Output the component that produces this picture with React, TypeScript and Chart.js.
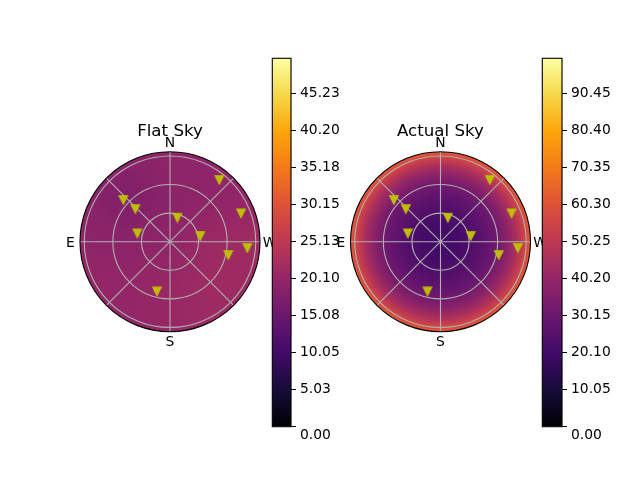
import React, { useEffect, useRef } from "react";
import { Chart, registerables } from "chart.js";
Chart.register(...registerables);

// ---------- data ----------
const R_MAX = 94.5; // zenith distance (deg) at the plot rim
const ringValues = [30, 60, 90];
const spokeAngles = [0, 45, 90, 135, 180, 225, 270, 315];
const directionLabels = ["N", "W", "S", "E"]; // at 0, 90, 180, 270 deg (clockwise from top)

// star positions (deg on sky, x toward W, y toward N)
const markerX = [-49.0, -36.4, -34.3, 7.7, 51.8, 74.6, 31.8, 81.2, 61.2, -13.7];
const markerY = [43.8, 34.3, 8.8, 25.2, 64.8, 29.8, 6.0, -6.6, -14.0, -52.1];

// flat sky brightness sampled on a coarse grid
const flatGridX = [-90, -45, 0, 45, 90];
const flatGridY = [90, 45, 0, -45, -90];
const flatRow90 = [19.5, 19.0, 19.5, 19.5, 20.0];
const flatRow45 = [19.0, 17.5, 19.0, 19.5, 20.0];
const flatRow0 = [19.5, 19.0, 19.5, 21.0, 21.5];
const flatRowM45 = [20.0, 20.0, 20.5, 21.5, 21.0];
const flatRowM90 = [20.0, 20.0, 20.5, 21.0, 20.5];
const flatGrid = [flatRow90, flatRow45, flatRow0, flatRowM45, flatRowM90];

// actual sky brightness versus zenith distance
const actualZenith = [0, 10, 20, 30, 40, 50, 60, 70, 80, 90, 94.5];
const actualValue = [20, 20.3, 21.2, 23, 25.5, 28.5, 32, 38, 46, 57, 62];

// colour bars
const flatMax = 49.95;
const actualMax = 99.95;
const flatTicks = ["0.00", "5.03", "10.05", "15.08", "20.10", "25.13", "30.15", "35.18", "40.20", "45.23"];
const actualTicks = ["0.00", "10.05", "20.10", "30.15", "40.20", "50.25", "60.30", "70.35", "80.40", "90.45"];

// ---------- styles ----------
const FONT = '"DejaVu Sans", sans-serif';
const INFERNO = [
  [0, 0, 4], [22, 11, 57], [66, 10, 104], [106, 23, 110], [147, 38, 103],
  [188, 55, 84], [221, 81, 58], [243, 120, 25], [252, 165, 10], [246, 215, 70], [252, 255, 164],
];
Chart.defaults.font.family = FONT;

function inferno(t: number): number[] {
  const c = Math.max(0, Math.min(1, t)) * (INFERNO.length - 1);
  const i = Math.min(INFERNO.length - 2, Math.floor(c));
  const f = c - i;
  const a = INFERNO[i], b = INFERNO[i + 1];
  return [a[0] + (b[0] - a[0]) * f, a[1] + (b[1] - a[1]) * f, a[2] + (b[2] - a[2]) * f];
}

function interp1(xs: number[], ys: number[], v: number): number {
  if (v <= xs[0]) return ys[0];
  for (let i = 0; i < xs.length - 1; i++) {
    if (v <= xs[i + 1]) {
      const f = (v - xs[i]) / (xs[i + 1] - xs[i]);
      return ys[i] + (ys[i + 1] - ys[i]) * f;
    }
  }
  return ys[ys.length - 1];
}

function flatValueAt(x: number, y: number): number {
  const cx = Math.max(flatGridX[0], Math.min(flatGridX[flatGridX.length - 1], x));
  const cy = Math.max(flatGridY[flatGridY.length - 1], Math.min(flatGridY[0], y));
  let i = 0;
  while (i < flatGridX.length - 2 && cx > flatGridX[i + 1]) i++;
  let j = 0;
  while (j < flatGridY.length - 2 && cy < flatGridY[j + 1]) j++;
  const fx = (cx - flatGridX[i]) / (flatGridX[i + 1] - flatGridX[i]);
  const fy = (cy - flatGridY[j]) / (flatGridY[j + 1] - flatGridY[j]);
  const v00 = flatGrid[j][i], v01 = flatGrid[j][i + 1];
  const v10 = flatGrid[j + 1][i], v11 = flatGrid[j + 1][i + 1];
  return (v00 * (1 - fx) + v01 * fx) * (1 - fy) + (v10 * (1 - fx) + v11 * fx) * fy;
}

function actualValueAt(x: number, y: number): number {
  return interp1(actualZenith, actualValue, Math.hypot(x, y));
}

function makeTriangle(): HTMLCanvasElement {
  const c = document.createElement("canvas");
  c.width = 12;
  c.height = 12;
  const g = c.getContext("2d")!;
  g.beginPath();
  g.moveTo(6 - 4.17, 6 - 4.17);
  g.lineTo(6 + 4.17, 6 - 4.17);
  g.lineTo(6, 6 + 4.17);
  g.closePath();
  g.fillStyle = "#bfbf00";
  g.fill();
  g.strokeStyle = "#bfbf00";
  g.lineWidth = 1.3;
  g.stroke();
  return c;
}

function skyPlugin(title: string, valueAt: (x: number, y: number) => number, vmax: number) {
  return {
    id: "sky-" + title,
    beforeDatasetsDraw(chart: any) {
      const { ctx, chartArea: a } = chart;
      const xs = chart.scales.x, ys = chart.scales.y;
      const cx = xs.getPixelForValue(0), cy = ys.getPixelForValue(0);
      const rad = xs.getPixelForValue(R_MAX) - cx;
      const w = Math.ceil(a.right - a.left), h = Math.ceil(a.bottom - a.top);
      const off = document.createElement("canvas");
      off.width = w;
      off.height = h;
      const octx = off.getContext("2d")!;
      const img = octx.createImageData(w, h);
      for (let j = 0; j < h; j++) {
        const vy = ys.getValueForPixel(a.top + j + 0.5);
        for (let i = 0; i < w; i++) {
          const vx = xs.getValueForPixel(a.left + i + 0.5);
          const col = inferno(valueAt(vx, vy) / vmax);
          const k = (j * w + i) * 4;
          img.data[k] = col[0];
          img.data[k + 1] = col[1];
          img.data[k + 2] = col[2];
          img.data[k + 3] = 255;
        }
      }
      octx.putImageData(img, 0, 0);
      ctx.save();
      ctx.beginPath();
      ctx.arc(cx, cy, rad, 0, Math.PI * 2);
      ctx.clip();
      ctx.drawImage(off, a.left, a.top);
      // grid
      ctx.strokeStyle = "#b0b0b0";
      ctx.lineWidth = 1.1;
      for (const r of ringValues) {
        const pr = xs.getPixelForValue(r) - cx;
        ctx.beginPath();
        ctx.arc(cx, cy, pr, 0, Math.PI * 2);
        ctx.stroke();
      }
      for (const ang of spokeAngles) {
        const t = (ang * Math.PI) / 180;
        ctx.beginPath();
        ctx.moveTo(cx, cy);
        ctx.lineTo(xs.getPixelForValue(R_MAX * Math.sin(t)), ys.getPixelForValue(R_MAX * Math.cos(t)));
        ctx.stroke();
      }
      ctx.restore();
    },
    afterDatasetsDraw(chart: any) {
      const { ctx } = chart;
      const xs = chart.scales.x, ys = chart.scales.y;
      const cx = xs.getPixelForValue(0), cy = ys.getPixelForValue(0);
      const rad = xs.getPixelForValue(R_MAX) - cx;
      ctx.save();
      ctx.strokeStyle = "#000";
      ctx.lineWidth = 1.1;
      ctx.beginPath();
      ctx.arc(cx, cy, rad, 0, Math.PI * 2);
      ctx.stroke();
      ctx.fillStyle = "#000";
      ctx.font = `13.89px ${FONT}`;
      ctx.textAlign = "center";
      ctx.textBaseline = "alphabetic";
      directionLabels.forEach((lab, idx) => {
        const t = (idx * 90 * Math.PI) / 180;
        const lr = rad + 9.6;
        ctx.fillText(lab, cx + lr * Math.sin(t), cy - lr * Math.cos(t) + 5);
      });
      ctx.font = `16.67px ${FONT}`;
      ctx.fillText(title, cx, cy - rad - 15.7);
      ctx.restore();
    },
  };
}

type Box = { left: number; top: number; width: number; height: number; pad: { left: number; right: number; top: number; bottom: number } };

function SkyPanel(props: { box: Box; title: string; valueAt: (x: number, y: number) => number; vmax: number }) {
  const ref = useRef<HTMLCanvasElement>(null);
  const { box, title, valueAt, vmax } = props;
  useEffect(() => {
    const tri = makeTriangle();
    const chart = new Chart(ref.current!, {
      type: "scatter",
      data: {
        datasets: [
          {
            data: markerX.map((x, i) => ({ x, y: markerY[i] })),
            pointStyle: tri as any,
            pointRadius: 5,
            backgroundColor: "#bfbf00",
            borderColor: "#bfbf00",
          },
        ],
      },
      options: {
        animation: false,
        responsive: false,
        events: [],
        layout: { padding: box.pad },
        plugins: { legend: { display: false }, tooltip: { enabled: false } },
        scales: {
          x: { type: "linear", display: false, min: -R_MAX, max: R_MAX },
          y: { type: "linear", display: false, min: -R_MAX, max: R_MAX },
        },
      },
      plugins: [skyPlugin(title, valueAt, vmax)],
    } as any);
    return () => chart.destroy();
  }, []);
  return (
    <canvas
      ref={ref}
      width={box.width}
      height={box.height}
      style={{ position: "absolute", left: box.left, top: box.top, width: box.width, height: box.height }}
    />
  );
}

function ColorBar(props: { box: Box; vmax: number; ticks: string[] }) {
  const ref = useRef<HTMLCanvasElement>(null);
  const { box, vmax, ticks } = props;
  useEffect(() => {
    const chart = new Chart(ref.current!, {
      type: "bar",
      data: {
        labels: [""],
        datasets: [
          {
            data: [vmax],
            barPercentage: 1,
            categoryPercentage: 1,
            borderWidth: 0,
            backgroundColor: (c: any) => {
              const area = c.chart.chartArea;
              if (!area) return "#000";
              const g = c.chart.ctx.createLinearGradient(0, area.bottom, 0, area.top);
              for (let i = 0; i <= 20; i++) {
                const col = inferno(i / 20);
                g.addColorStop(i / 20, `rgb(${col[0]},${col[1]},${col[2]})`);
              }
              return g;
            },
          },
        ],
      },
      options: {
        animation: false,
        responsive: false,
        events: [],
        layout: { padding: box.pad },
        plugins: { legend: { display: false }, tooltip: { enabled: false } },
        scales: {
          x: { display: false },
          y: {
            position: "right",
            min: 0,
            max: vmax,
            afterBuildTicks: (s: any) => {
              s.ticks = ticks.map((t) => ({ value: parseFloat(t) }));
            },
            afterFit: (s: any) => {
              s.width = 60;
            },
            ticks: {
              color: "#000",
              padding: 4,
              font: { family: FONT, size: 13.89 },
              // the lowest label sits just below the bar's bottom edge
              callback: (_v: any, i: number) => (i === 0 ? ["", ticks[i]] : ticks[i]),
            },
            grid: { drawOnChartArea: false, drawTicks: true, tickLength: 5, color: "#000", lineWidth: 1 },
            border: { display: true, color: "#000", width: 1.1 },
          },
        },
      },
      plugins: [
        {
          id: "frame",
          afterDraw(chart: any) {
            const { ctx, chartArea: a } = chart;
            ctx.save();
            ctx.strokeStyle = "#000";
            ctx.lineWidth = 1.1;
            ctx.strokeRect(a.left, a.top, a.right - a.left, a.bottom - a.top);
            ctx.restore();
          },
        },
      ],
    } as any);
    return () => chart.destroy();
  }, []);
  return (
    <canvas
      ref={ref}
      width={box.width}
      height={box.height}
      style={{ position: "absolute", left: box.left, top: box.top, width: box.width, height: box.height }}
    />
  );
}

const leftSkyBox: Box = { left: 30, top: 100, width: 250, height: 250, pad: { left: 50, right: 20, top: 51.7, bottom: 18.3 } };
const rightSkyBox: Box = { left: 320, top: 100, width: 230, height: 250, pad: { left: 30.5, right: 19.5, top: 51.7, bottom: 18.3 } };
const leftBarBox: Box = { left: 262, top: 40, width: 89, height: 425, pad: { left: 10.3, right: 0, top: 18.3, bottom: 38.3 } };
const rightBarBox: Box = { left: 532, top: 40, width: 90, height: 425, pad: { left: 10.3, right: 0, top: 18.3, bottom: 38.3 } };

export default function App() {
  return (
    <div style={{ position: "absolute", left: 0, top: 0, width: 640, height: 480, background: "#fff", overflow: "hidden" }}>
      <SkyPanel box={leftSkyBox} title="Flat Sky" valueAt={flatValueAt} vmax={flatMax} />
      <ColorBar box={leftBarBox} vmax={flatMax} ticks={flatTicks} />
      <SkyPanel box={rightSkyBox} title="Actual Sky" valueAt={actualValueAt} vmax={actualMax} />
      <ColorBar box={rightBarBox} vmax={actualMax} ticks={actualTicks} />
    </div>
  );
}
